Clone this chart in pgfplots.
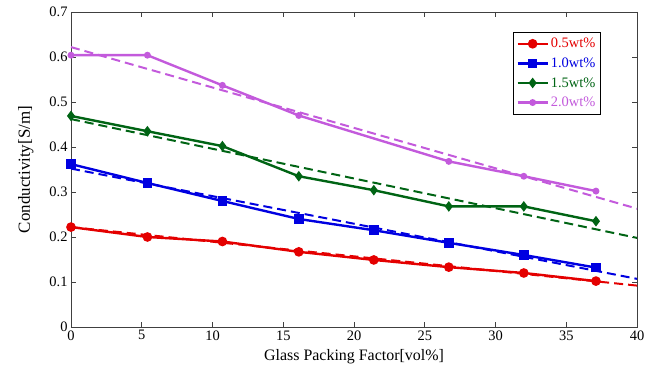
\documentclass[border=0pt]{standalone}
\usepackage{pgfplots}
\pgfplotsset{compat=1.18}
\usepackage{fontspec}
\setmainfont{Liberation Serif}
\definecolor{cred}{RGB}{228,0,0}
\definecolor{cblue}{RGB}{0,0,225}
\definecolor{cgreen}{RGB}{0,100,20}
\definecolor{cpurple}{RGB}{195,90,220}
\begin{document}
\begin{tikzpicture}
\begin{axis}[
  scale only axis, width=566bp, height=315bp,
  xmin=0, xmax=40, ymin=0, ymax=0.7,
  xtick={0,5,...,40}, ytick={0,0.1,...,0.7},
  yticklabel style={/pgf/number format/fixed,/pgf/number format/precision=1},
  /pgf/number format/assume math mode=true,
  tick align=inside, major tick length=5bp,
  axis line style={black!75, line width=0.8pt},
  every tick/.style={black!75, line width=0.6pt},
  tick label style={font=\fontsize{14.5}{16}\selectfont},
  label style={font=\fontsize{16}{18}\selectfont},
  xlabel={Glass Packing Factor[vol\%]},
  ylabel={Conductivity[S/m]},
  xlabel style={yshift=-2bp},
  ylabel style={yshift=9bp, font=\fontsize{17}{19}\selectfont},
  legend style={at={(0.936,0.937)}, anchor=north east, draw=black, line width=0.8pt,
    font=\fontsize{14.5}{16}\selectfont, row sep=4.5bp, inner xsep=3bp, inner ysep=4bp},
  legend cell align=left,
  legend image code/.code={
    \draw[#1] (0bp,0bp) -- (30bp,0bp);
    \draw[#1, only marks] plot coordinates {(15bp,0bp)};
  },
]
\addplot[cred, line width=2.4pt, mark=*, mark size=3.6pt] coordinates {
(0,0.222)(5.4,0.200)(10.7,0.190)(16.1,0.167)(21.4,0.149)(26.7,0.133)(32,0.120)(37.1,0.102)};
\addlegendentry{\textcolor{cred}{0.5wt\%}}
\addplot[cblue, line width=2.4pt, mark=square*, mark size=3.6pt] coordinates {
(0,0.362)(5.4,0.320)(10.7,0.280)(16.1,0.240)(21.4,0.215)(26.7,0.187)(32,0.160)(37.1,0.132)};
\addlegendentry{\textcolor{cblue}{1.0wt\%}}
\addplot[cgreen, line width=2.4pt, mark=diamond*, mark size=3.4pt] coordinates {
(0,0.469)(5.4,0.435)(10.7,0.402)(16.1,0.335)(21.4,0.304)(26.7,0.268)(32,0.268)(37.1,0.235)};
\addlegendentry{\textcolor{cgreen}{1.5wt\%}}
\addplot[cpurple, line width=2.4pt, mark=*, mark size=2.2pt] coordinates {
(0,0.604)(5.4,0.604)(10.7,0.537)(16.1,0.470)(26.7,0.368)(32,0.335)(37.1,0.302)};
\addlegendentry{\textcolor{cpurple}{2.0wt\%}}
\addplot[cred, line width=2pt, dash pattern=on 9bp off 5bp, forget plot] coordinates {(0,0.222)(40,0.092)};
\addplot[cblue, line width=2pt, dash pattern=on 9bp off 5bp, forget plot] coordinates {(0,0.352)(40,0.107)};
\addplot[cgreen, line width=2pt, dash pattern=on 9bp off 5bp, forget plot] coordinates {(0,0.462)(40,0.198)};
\addplot[cpurple, line width=2pt, dash pattern=on 9bp off 5bp, forget plot] coordinates {(0,0.622)(40,0.263)};
\end{axis}
\pgfresetboundingbox
\path ([xshift=-71bp,yshift=-45bp]current axis.south west) rectangle ([xshift=20bp,yshift=12bp]current axis.north east);
\end{tikzpicture}
\end{document}
